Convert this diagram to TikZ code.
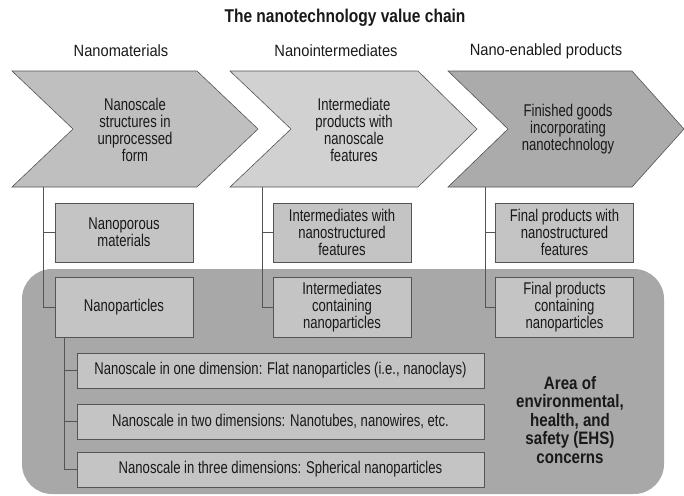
\documentclass[tikz,border=0pt]{standalone}
\usepackage{fontspec}
\setmainfont{Liberation Sans}[FakeStretch=0.77]
\newfontfamily\heavyfont{Liberation Sans}[FakeStretch=0.84]
\newfontfamily\headfont{Liberation Sans}[FakeStretch=0.9]
\definecolor{chevA}{gray}{0.75}
\definecolor{chevB}{gray}{0.82}
\definecolor{chevC}{gray}{0.67}
\definecolor{zone}{gray}{0.66}
\definecolor{boxfill}{gray}{0.77}
\definecolor{edge}{gray}{0.33}
\definecolor{ink}{gray}{0.1}
\begin{document}
\begin{tikzpicture}[x=1pt,y=-1pt,
    box/.style={draw=edge,line width=0.9pt,fill=boxfill,align=center,inner sep=0pt,
      minimum width=138pt,minimum height=59pt,text=ink,font=\fontsize{17}{17}\selectfont},
    widebox/.style={box,minimum width=407pt,minimum height=35pt},
    chevron/.style={draw=edge,line width=0.6pt},
    link/.style={draw=edge,line width=0.8pt},
    lbl/.style={align=center,text=ink,font=\fontsize{17}{16.8}\selectfont},
    head/.style={text=ink,font={\headfont\fontsize{16.3}{18}\selectfont}}]
        \useasboundingbox (0,0) rectangle (684,495);
        \fill[zone,rounded corners=30pt] (22,269) rectangle (664,494);
        \filldraw[chevron,fill=chevA] (12,71) -- (197,71) -- (258,129) -- (197,187) -- (12,187) -- (73,129) -- cycle;
        \filldraw[chevron,fill=chevB] (230,71) -- (418,71) -- (477,129) -- (418,187) -- (230,187) -- (291,129) -- cycle;
        \filldraw[chevron,fill=chevC] (448,71) -- (632,71) -- (684,129) -- (632,187) -- (448,187) -- (508,129) -- cycle;
        \node[text=ink,font={\heavyfont\bfseries\fontsize{18.5}{20}\selectfont}] (title) at (345,18) {The nanotechnology value chain};
        \node[head] (hmat) at (121,51) {Nanomaterials};
        \node[head] (hint) at (336,51) {Nanointermediates};
        \node[head] (hprod) at (546,51) {Nano-enabled products};
        \node[lbl] (raw) at (135,130) {Nanoscale\\structures in\\unprocessed\\form};
        \node[lbl] (inter) at (354,130) {Intermediate\\products with\\nanoscale\\features};
        \node[lbl] (goods) at (568,129) {Finished goods\\incorporating\\nanotechnology};
        \node[box] (porous) at (124,232.5) {Nanoporous\\materials};
        \node[box,minimum height=60pt] (particles) at (124,307) {Nanoparticles};
        \node[box] (interstruct) at (342,232.5) {Intermediates with\\nanostructured\\features};
        \node[box,minimum height=60pt] (interpart) at (342,307) {Intermediates\\containing\\nanoparticles};
        \node[box] (finalstruct) at (564.5,232.5) {Final products with\\nanostructured\\features};
        \node[box,minimum height=60pt] (finalpart) at (564.5,307) {Final products\\containing\\nanoparticles};
        \node[widebox] (dimone) at (280.5,370.5) {Nanoscale in one dimension: Flat nanoparticles (i.e., nanoclays)};
        \node[widebox] (dimtwo) at (280.5,421.5) {Nanoscale in two dimensions: Nanotubes, nanowires, etc.};
        \node[widebox] (dimthree) at (280.5,469.5) {Nanoscale in three dimensions: Spherical nanoparticles};
        \node[align=center,text=ink,font={\heavyfont\bfseries\fontsize{18}{18.5}\selectfont}] (ehs) at (570,420) {Area of\\environmental,\\health, and\\safety (EHS)\\concerns};
        \coordinate (stem1) at (43,187);
        \coordinate (stem2) at (262,187);
        \coordinate (stem3) at (485,187);
        \draw[link] (stem1) |- (porous.west);
        \draw[link] (stem1) |- (particles.west);
        \draw[link] (stem2) |- (interstruct.west);
        \draw[link] (stem2) |- (interpart.west);
        \draw[link] (stem3) |- (finalstruct.west);
        \draw[link] (stem3) |- (finalpart.west);
        \draw[link] ([xshift=10pt]particles.south west) |- (dimone.west);
        \draw[link] ([xshift=10pt]particles.south west) |- (dimtwo.west);
        \draw[link] ([xshift=10pt]particles.south west) |- (dimthree.west);
    \end{tikzpicture}
\end{document}
